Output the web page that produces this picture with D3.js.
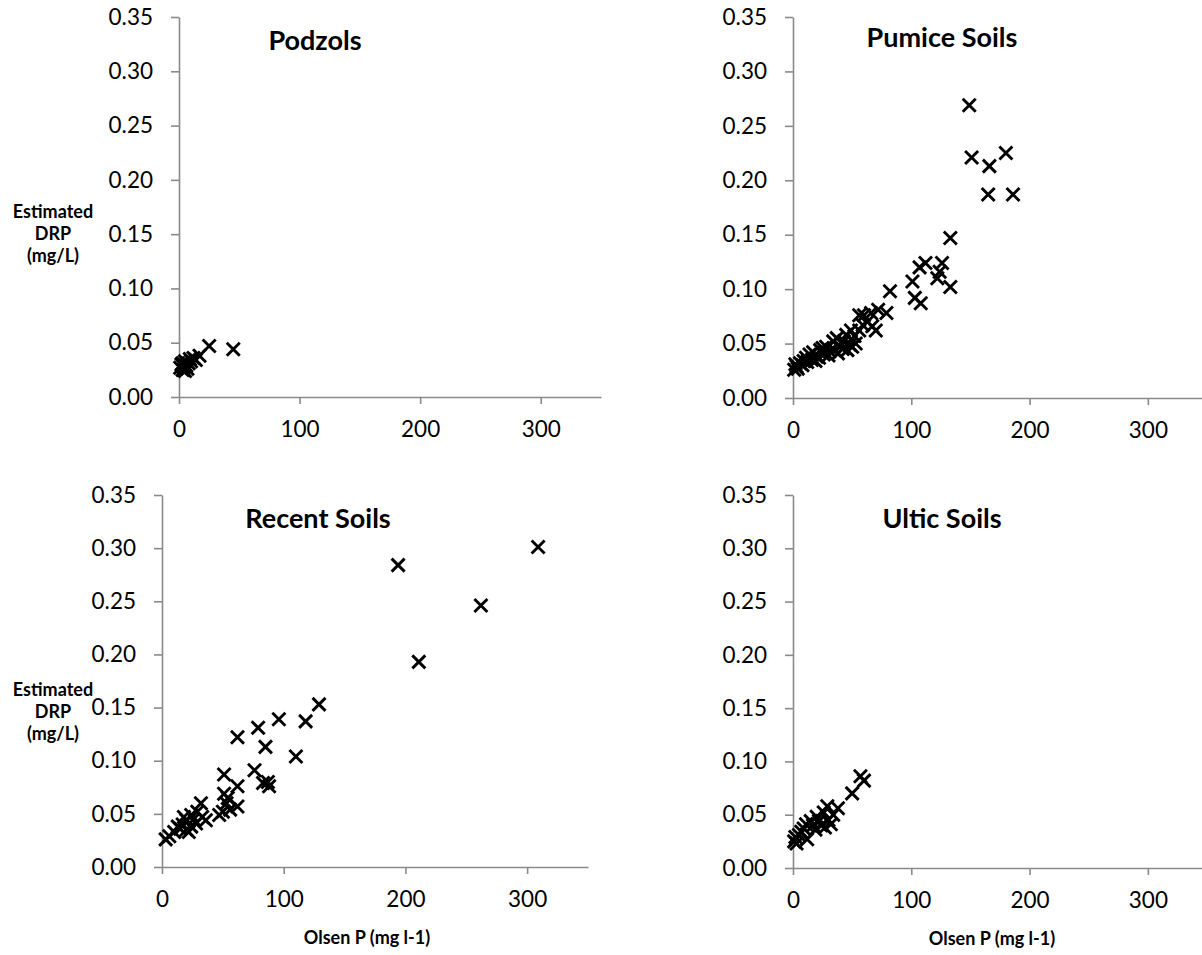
<!DOCTYPE html>
<html>
<head>
<meta charset="utf-8">
<script src="https://cdn.jsdelivr.net/npm/d3@7"></script>
<style>
  html, body { margin: 0; padding: 0; background: #ffffff; }
  svg { display: block; font-family: Lato, "Open Sans", "DejaVu Sans", sans-serif; }
</style>
</head>
<body>
<svg id="chart" width="1202" height="955"></svg>
<script>
// Soil groups, axis ticks and axis titles
const soilNames = ["Podzols", "Pumice Soils", "Recent Soils", "Ultic Soils"];
const xTickValues = [0, 100, 200, 300];
const yTickValues = [0, 0.05, 0.10, 0.15, 0.20, 0.25, 0.30, 0.35];
const xAxisTitle = "Olsen P (mg l-1)";
const yAxisTitleLines = ["Estimated", "DRP", "(mg/L)"];

// Olsen P (mg l-1) against estimated DRP (mg/L), one pair of arrays per soil group
const podzolsOlsenP = [1, 2, 3, 3, 4, 5, 5, 6, 7, 8, 9, 10, 12, 14, 17, 25, 45];
const podzolsDRP = [0.027, 0.030, 0.025, 0.031, 0.028, 0.024, 0.033, 0.029, 0.026, 0.031, 0.035, 0.033, 0.036, 0.034, 0.038, 0.047, 0.044];

const pumiceOlsenP = [149, 151, 166, 180, 165, 186, 133, 107, 112, 126, 124, 122, 133, 101, 103, 108,
  82, 79, 72, 66, 60, 56, 70, 67, 63, 59, 56, 52, 49, 45, 48, 43, 40, 37, 34, 31, 28, 25, 23, 20,
  17, 14, 11, 9, 6, 3, 1, 2, 4, 8, 12, 16, 19, 22, 26, 30, 35, 38, 42, 46, 50, 53];
const pumiceDRP = [0.269, 0.221, 0.213, 0.225, 0.187, 0.187, 0.147, 0.120, 0.124, 0.124, 0.116, 0.110, 0.102, 0.107, 0.092, 0.087,
  0.098, 0.078, 0.081, 0.078, 0.076, 0.076, 0.062, 0.066, 0.070, 0.067, 0.062, 0.057, 0.062, 0.058, 0.049, 0.052, 0.047, 0.055, 0.052, 0.043, 0.047, 0.046, 0.044, 0.038,
  0.042, 0.040, 0.037, 0.034, 0.032, 0.029, 0.026, 0.031, 0.027, 0.030, 0.033, 0.035, 0.034, 0.037, 0.040, 0.039, 0.044, 0.041, 0.045, 0.044, 0.047, 0.050];

const recentOlsenP = [309, 194, 211, 262, 129, 118, 96, 79, 62, 85, 110, 76, 83, 88, 87, 62, 51,
  62, 51, 54, 53, 50, 47, 56, 32, 36, 29, 24, 20, 17, 24, 28, 13, 10, 22, 18, 3, 6, 15, 26, 33, 20];
const recentDRP = [0.301, 0.284, 0.193, 0.246, 0.153, 0.137, 0.139, 0.131, 0.122, 0.113, 0.104, 0.091, 0.079, 0.076, 0.080, 0.076, 0.087,
  0.057, 0.069, 0.065, 0.060, 0.052, 0.049, 0.054, 0.060, 0.044, 0.052, 0.049, 0.044, 0.040, 0.038, 0.041, 0.038, 0.033, 0.033, 0.047, 0.026, 0.029, 0.036, 0.045, 0.047, 0.035];

const ulticOlsenP = [1, 3, 2, 5, 7, 9, 12, 11, 15, 17, 19, 20, 22, 24, 26, 27, 29, 30, 32, 34, 38, 50, 57, 60];
const ulticDRP = [0.025, 0.023, 0.029, 0.031, 0.034, 0.037, 0.027, 0.041, 0.044, 0.040, 0.036, 0.048, 0.044, 0.040, 0.052, 0.038, 0.058, 0.045, 0.041, 0.050, 0.056, 0.070, 0.086, 0.082];

// Plot frames: 2 x 2 grid of scatter panels
const panels = [
  { title: soilNames[0], xs: podzolsOlsenP, ys: podzolsDRP, left: 179, right: 601, top: 17, bottom: 397, titleX: 315, titleY: 50, showY: true, showX: false },
  { title: soilNames[1], xs: pumiceOlsenP, ys: pumiceDRP, left: 793, right: 1207, top: 17, bottom: 398, titleX: 942, titleY: 47, showY: false, showX: false },
  { title: soilNames[2], xs: recentOlsenP, ys: recentDRP, left: 162, right: 588, top: 495, bottom: 867, titleX: 318, titleY: 528, showY: true, showX: true },
  { title: soilNames[3], xs: ulticOlsenP, ys: ulticDRP, left: 793, right: 1207, top: 495, bottom: 868, titleX: 942, titleY: 528, showY: false, showX: true }
];

const svg = d3.select("#chart");
const axisColor = "#8a8a8a";
const markerPath = "M-6.5,-6.5L6.5,6.5M6.5,-6.5L-6.5,6.5";

panels.forEach(p => {
  const x = d3.scaleLinear().domain([0, 350]).range([p.left, p.right]);
  const y = d3.scaleLinear().domain([0, 0.35]).range([p.bottom, p.top]);
  const g = svg.append("g");

  // Horizontal axis
  const gx = g.append("g")
    .attr("transform", `translate(0,${p.bottom})`)
    .call(d3.axisBottom(x).tickValues(xTickValues).tickFormat(d3.format("d"))
      .tickSizeInner(7).tickSizeOuter(0).tickPadding(17));

  // Vertical axis
  const gy = g.append("g")
    .attr("transform", `translate(${p.left},0)`)
    .call(d3.axisLeft(y).tickValues(yTickValues).tickFormat(d3.format(".2f"))
      .tickSizeInner(8).tickSizeOuter(0).tickPadding(18));

  [gx, gy].forEach(a => {
    a.select(".domain").attr("stroke", axisColor).attr("stroke-width", 1.6);
    a.selectAll(".tick line").attr("stroke", axisColor).attr("stroke-width", 1.6);
    a.selectAll(".tick text").attr("fill", "#000").style("font-size", "22.5px")
      .style("font-family", "Lato, 'Open Sans', sans-serif");
  });

  // Panel title
  g.append("text")
    .attr("x", p.titleX).attr("y", p.titleY)
    .attr("text-anchor", "middle")
    .style("font-size", "27px").style("font-weight", "bold")
    .text(p.title);

  // Axis titles
  if (p.showY) {
    const t = g.append("text")
      .attr("text-anchor", "middle")
      .style("font-size", "18px").style("font-weight", "bold");
    yAxisTitleLines.forEach((line, i) => {
      t.append("tspan").attr("x", 53).attr("y", p.top + 201 + i * 22).text(line);
    });
  }
  if (p.showX) {
    g.append("text")
      .attr("x", x(175) - 8)
      .attr("y", p.bottom + 77)
      .attr("text-anchor", "middle")
      .style("font-size", "18px").style("font-weight", "bold")
      .text(xAxisTitle);
  }

  // Data markers
  const pts = p.xs.map((v, i) => ({ olsen: v, drp: p.ys[i] }));
  g.append("g").selectAll("path")
    .data(pts)
    .join("path")
    .attr("d", markerPath)
    .attr("transform", d => `translate(${x(d.olsen)},${y(d.drp)})`)
    .attr("stroke", "#000")
    .attr("stroke-width", 2.9)
    .attr("fill", "none");
});
</script>
</body>
</html>
